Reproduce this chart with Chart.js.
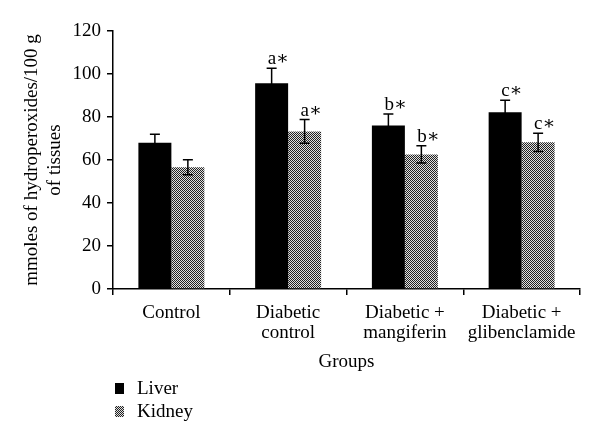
<!DOCTYPE html>
<html>
<head>
<meta charset="utf-8">
<script src="https://cdn.jsdelivr.net/npm/chart.js@4"></script>
<style>
  html, body { margin: 0; padding: 0; background: #fff; overflow: hidden; }
  #wrap { width: 600px; height: 445px; }
</style>
</head>
<body>
<div id="wrap"><canvas id="myChart"></canvas></div>
<script>
var groups = ['Control', ['Diabetic', 'control'], ['Diabetic +', 'mangiferin'], ['Diabetic +', 'glibenclamide']];
var liver = [68, 95.7, 76, 82.2];
var liverErr = [4, 7, 5.4, 5.6];
var kidney = [56.6, 73.3, 62.6, 68.2];
var kidneyErr = [3.5, 5.5, 4, 4.3];
var liverMarks = ['', 'a\u2217', 'b\u2217', 'c\u2217'];
var kidneyMarks = ['', 'a\u2217', 'b\u2217', 'c\u2217'];
var yTicks = [0, 20, 40, 60, 80, 100, 120];

var serif = '"Liberation Serif", "DejaVu Serif", serif';

// checkered fill for the kidney bars
function makePattern() {
  var c = document.createElement('canvas');
  c.width = 2; c.height = 2;
  var p = c.getContext('2d');
  p.fillStyle = '#e0e0e0';
  p.fillRect(0, 0, 2, 2);
  p.fillStyle = '#222';
  p.fillRect(0, 0, 1, 1);
  p.fillRect(1, 1, 1, 1);
  return p.createPattern(c, 'repeat');
}
var kidneyFill = makePattern();

var errors = [liverErr, kidneyErr];
var marks = [liverMarks, kidneyMarks];

var errorBars = {
  id: 'errorBars',
  afterDatasetsDraw: function(chart) {
    var ctx = chart.ctx;
    var y = chart.scales.y;
    ctx.save();
    ctx.strokeStyle = '#000';
    ctx.lineWidth = 1.5;
    ctx.fillStyle = '#000';
    ctx.font = '19px ' + serif;
    ctx.textAlign = 'left';
    ctx.textBaseline = 'alphabetic';
    chart.data.datasets.forEach(function(ds, d) {
      var meta = chart.getDatasetMeta(d);
      meta.data.forEach(function(bar, i) {
        var v = ds.data[i];
        var e = errors[d][i];
        var top = y.getPixelForValue(v + e);
        var bot = y.getPixelForValue(v - e);
        ctx.beginPath();
        ctx.moveTo(bar.x, top);
        ctx.lineTo(bar.x, bot);
        ctx.moveTo(bar.x - 5, top);
        ctx.lineTo(bar.x + 5, top);
        ctx.moveTo(bar.x - 5, bot);
        ctx.lineTo(bar.x + 5, bot);
        ctx.stroke();
        var m = marks[d][i];
        if (m) ctx.fillText(m, bar.x - 4, top - 4);
      });
    });
    ctx.restore();
  }
};

var sideLegend = {
  id: 'sideLegend',
  afterDraw: function(chart) {
    var ctx = chart.ctx;
    ctx.save();
    ctx.font = '19px ' + serif;
    ctx.textBaseline = 'middle';
    ctx.textAlign = 'left';
    chart.data.datasets.forEach(function(ds, d) {
      var cy = 389 + d * 23;
      ctx.fillStyle = ds.backgroundColor;
      ctx.fillRect(115, cy - 6, 9, 11);
      ctx.fillStyle = '#000';
      ctx.fillText(ds.label, 137, cy);
    });
    ctx.restore();
  }
};

var ctx = document.getElementById('myChart').getContext('2d');
var chart = new Chart(ctx, {
  type: 'bar',
  data: {
    labels: groups,
    datasets: [{
      label: 'Liver',
      backgroundColor: '#000',
      data: liver
    }, {
      label: 'Kidney',
      backgroundColor: kidneyFill,
      data: kidney
    }]
  },
  options: {
    responsive: true,
    maintainAspectRatio: false,
    animation: false,
    categoryPercentage: 0.565,
    barPercentage: 1.0,
    layout: { padding: { top: 31, right: 20, bottom: 56, left: 0 } },
    plugins: {
      legend: { display: false },
      tooltip: { enabled: false }
    },
    scales: {
      x: {
        afterFit: function(s) { s.height = 100; },
        grid: { offset: true, drawOnChartArea: false, tickLength: 6, color: '#000', lineWidth: 1.5 },
        border: { color: '#000', width: 1.5 },
        ticks: { color: '#000', padding: 8, maxRotation: 0, font: { family: serif, size: 19, lineHeight: '20px' } },
        title: { display: true, text: 'Groups', color: '#000', font: { family: serif, size: 19, lineHeight: '20px' }, padding: { top: 0, bottom: 17 } }
      },
      y: {
        min: 0,
        max: 120,
        afterFit: function(s) { s.width = 113; },
        afterBuildTicks: function(s) { s.ticks = yTicks.map(function(v) { return { value: v }; }); },
        grid: { drawOnChartArea: false, tickLength: 6, color: '#000', lineWidth: 1.5 },
        border: { color: '#000', width: 1.5 },
        ticks: { color: '#000', padding: 6, font: { family: serif, size: 19 } },
        title: {
          display: true,
          text: ['mmoles of hydroperoxides/100 g', 'of tissues'],
          color: '#000',
          font: { family: serif, size: 19, lineHeight: '23px' },
          padding: { top: 21, bottom: 0 }
        }
      }
    }
  },
  plugins: [errorBars, sideLegend]
});
</script>
</body>
</html>
